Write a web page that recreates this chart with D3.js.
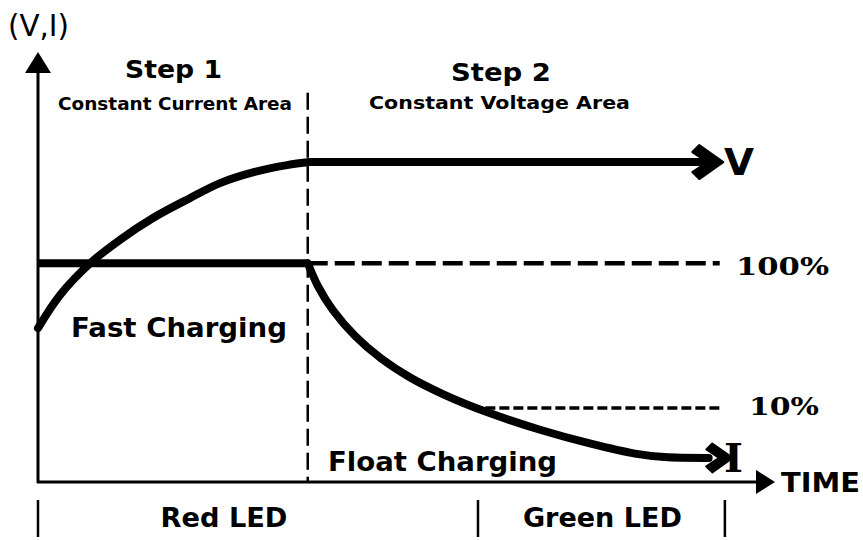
<!DOCTYPE html>
<html><head><meta charset="utf-8">
<script src="https://cdn.jsdelivr.net/npm/d3@7"></script>
<style>html,body{margin:0;padding:0;background:#fff;} svg{display:block}</style>
</head><body>
<svg id="c" width="863" height="540"></svg>
<script>
// ---- data (generic time / level units) ----
const voltageTime  = [0, 3.0, 7.1, 11.1, 15.6, 20.6, 24.7, 29.4, 33.8, 36.9, 90.0];
const voltageValue = [35.8, 43.5, 50.9, 56.3, 61.4, 66.0, 69.5, 72.1, 73.7, 74.4, 74.4];
const ccTime  = [0, 36.6];
const ccValue = [50.9, 50.9];
const currentTime  = [36.6, 38.0, 40.0, 43.0, 46.5, 50.5, 55.0, 61.0, 68.0, 75.0, 81.0, 85.0, 91.0];
const currentValue = [50.9, 45.5, 40.0, 34.0, 28.8, 24.3, 20.4, 16.2, 12.2, 8.9, 6.6, 5.8, 5.6];
const refLabels = ["100%", "10%"];
const refValues = [50.9, 17.2];
const refFrom   = [36.6, 60.7];
const refTo     = [92.5, 92.5];
const stepDivider = 36.6;
const stepTitles = ["Step 1", "Step 2"];
const stepSubtitles = ["Constant Current Area", "Constant Voltage Area"];
const ledBounds = [0, 59.7, 93.2];
const ledLabels = ["Red LED", "Green LED"];

const svg = d3.select("#c");
const x = d3.scaleLinear().domain([0, 100]).range([38, 775]);
const y = d3.scaleLinear().domain([0, 100]).range([482, 52]);
const BLACK = "#000";

// axes
svg.append("line").attr("x1", x(0)).attr("x2", x(0)).attr("y1", y(0)+1).attr("y2", y(96))
  .attr("stroke", BLACK).attr("stroke-width", 3);
svg.append("path").attr("d", `M${x(0)},${y(100)} L${x(0)-13},${y(100)+21} L${x(0)+13},${y(100)+21} Z`).attr("fill", BLACK);
svg.append("line").attr("x1", x(0)-1).attr("x2", x(98)).attr("y1", y(0)).attr("y2", y(0))
  .attr("stroke", BLACK).attr("stroke-width", 3);
svg.append("path").attr("d", `M${x(100)},${y(0)} L${x(100)-19},${y(0)-12} L${x(100)-19},${y(0)+12} Z`).attr("fill", BLACK);

// step divider
svg.append("line").attr("x1", x(stepDivider)).attr("x2", x(stepDivider))
  .attr("y1", y(90.5)).attr("y2", y(0))
  .attr("stroke", BLACK).attr("stroke-width", 2.5).attr("stroke-dasharray", "17,7");

// reference dashed lines
refValues.forEach((v, i) => {
  svg.append("line").attr("x1", x(refFrom[i])).attr("x2", x(refTo[i]))
    .attr("y1", y(v)).attr("y2", y(v))
    .attr("stroke", BLACK).attr("stroke-width", i === 0 ? 4.5 : 3.5)
    .attr("stroke-dasharray", i === 0 ? "20,7" : "10,4");
});

const smooth = d3.line().x(d => x(d[0])).y(d => y(d[1])).curve(d3.curveCatmullRom.alpha(0.5));
const straight = d3.line().x(d => x(d[0])).y(d => y(d[1]));

// constant current
svg.append("path").attr("d", straight(d3.zip(ccTime, ccValue)))
  .attr("fill", "none").attr("stroke", BLACK).attr("stroke-width", 8);
// voltage: rising curve, then flat run
const vPts = d3.zip(voltageTime, voltageValue);
svg.append("path").attr("d", smooth(vPts.slice(0, vPts.length - 1)))
  .attr("fill", "none").attr("stroke", BLACK).attr("stroke-width", 8).attr("stroke-linecap", "round");
svg.append("path").attr("d", straight(vPts.slice(vPts.length - 2)))
  .attr("fill", "none").attr("stroke", BLACK).attr("stroke-width", 8).attr("stroke-linecap", "round");
// current
const iPts = d3.zip(currentTime, currentValue);
svg.append("path").attr("d", smooth(iPts))
  .attr("fill", "none").attr("stroke", BLACK).attr("stroke-width", 8).attr("stroke-linecap", "round");

function chevron(px, py, s) {
  return `M${px},${py} L${px-24*s},${py-17*s} L${px-31*s},${py-10*s} L${px-16*s},${py} L${px-31*s},${py+10*s} L${px-24*s},${py+17*s} Z`;
}
const vEnd = vPts[vPts.length-1], iEnd = iPts[iPts.length-1];
svg.append("path").attr("d", chevron(x(vEnd[0])+22, y(vEnd[1]), 1)).attr("fill", BLACK)
  .attr("stroke", BLACK).attr("stroke-width", 2).attr("stroke-linejoin", "round");
svg.append("path").attr("d", chevron(x(iEnd[0])+24, y(iEnd[1]), 0.85)).attr("fill", BLACK)
  .attr("stroke", BLACK).attr("stroke-width", 2).attr("stroke-linejoin", "round");

// texts
function txt(t, px, py, size, opts) {
  opts = opts || {};
  const el = svg.append("text").text(t).attr("x", px).attr("y", py)
    .attr("font-family", opts.family || "DejaVu Sans")
    .attr("font-weight", opts.weight || "bold")
    .attr("font-size", size).attr("fill", BLACK)
    .attr("text-anchor", opts.anchor || "start");
  if (opts.len) el.attr("textLength", opts.len).attr("lengthAdjust", "spacingAndGlyphs");
  return el;
}
txt("(V,I)", 8, 36, 30, {weight: "normal", len: 61});
txt(stepTitles[0], 125, 78, 24, {len: 97});
txt(stepSubtitles[0], 58, 110, 17, {len: 234});
txt(stepTitles[1], 451, 81, 24, {len: 100});
txt(stepSubtitles[1], 369, 109, 17, {len: 261});
txt("V", 724, 175, 37, {len: 30});
txt(refLabels[0], 736, 275, 25, {family: "DejaVu Serif", len: 93});
txt(refLabels[1], 749, 415, 25, {family: "DejaVu Serif", len: 70});
txt("Fast Charging", 71, 337, 27, {len: 216});
txt("Float Charging", 328, 471, 27, {len: 229});
txt("I", 724, 472, 40, {family: "DejaVu Serif", len: 19});
txt("TIME", 781, 492, 27, {len: 79});

// LED bar
ledBounds.forEach(b => {
  svg.append("line").attr("x1", x(b)).attr("x2", x(b)).attr("y1", 500).attr("y2", 537)
    .attr("stroke", BLACK).attr("stroke-width", 2.5);
});
ledLabels.forEach((l, i) => {
  const cx = (x(ledBounds[i]) + x(ledBounds[i+1])) / 2;
  txt(l, i === 0 ? cx - 34 : cx + 1, 527, 27, {anchor: "middle", len: i === 0 ? 127 : 159});
});
</script>
</body></html>
